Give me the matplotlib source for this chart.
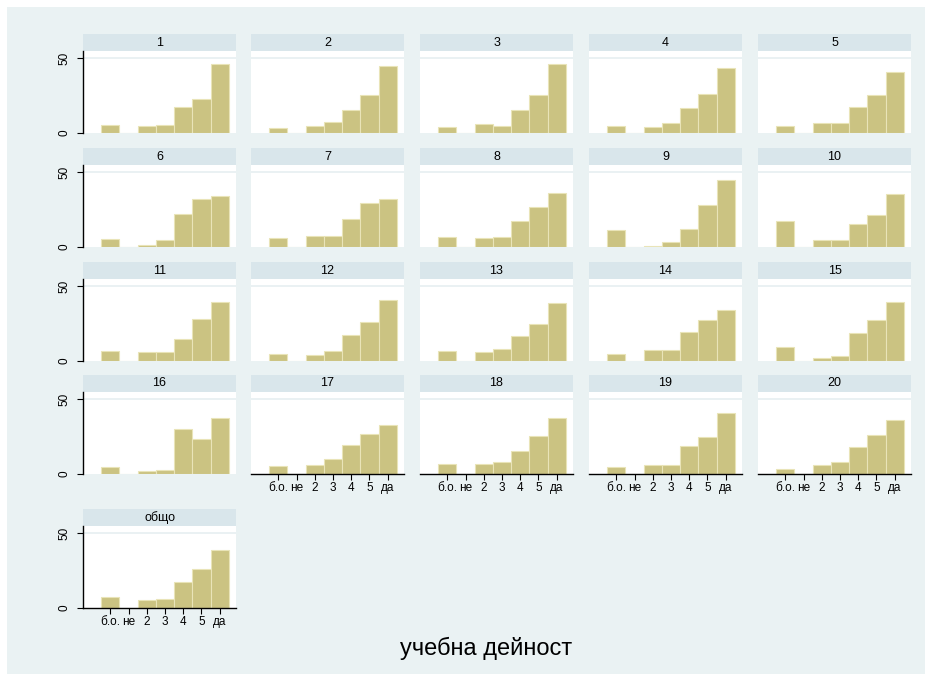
import numpy as np
import matplotlib
matplotlib.use("Agg")
import matplotlib.pyplot as plt
from matplotlib.patches import Rectangle

plt.rcParams["font.family"] = ["Liberation Sans", "DejaVu Sans"]

# категории по оста x
categories = ["б.о.", "не", "2", "3", "4", "5", "да"]
panel_titles = [str(i) for i in range(1, 21)] + ["общо"]
# стойности (проценти) за всеки панел, в реда на categories
values = [
    [5.5, 0, 4.6, 5.5, 17.1, 22.6, 45.9],
    [3.4, 0, 4.6, 7.5, 15.5, 25.3, 44.5],
    [4.1, 0, 5.9, 5.0, 15.1, 25.3, 45.9],
    [4.6, 0, 4.1, 6.6, 16.7, 26.3, 43.2],
    [4.8, 0, 6.8, 6.4, 17.1, 25.6, 41.1],
    [5.2, 0, 1.1, 5.0, 22.3, 32.3, 34.3],
    [5.7, 0, 7.3, 7.3, 18.9, 29.1, 32.3],
    [6.6, 0, 5.9, 6.6, 17.7, 27.0, 36.4],
    [11.4, 0, 0.9, 3.4, 12.0, 28.4, 44.5],
    [17.7, 0, 5.0, 5.0, 15.2, 21.6, 35.7],
    [6.8, 0, 5.9, 5.9, 14.8, 28.1, 39.3],
    [4.6, 0, 4.1, 6.8, 17.4, 26.3, 41.1],
    [6.8, 0, 5.9, 7.8, 16.7, 24.7, 39.0],
    [4.6, 0, 7.5, 7.1, 19.6, 27.6, 34.0],
    [9.6, 0, 2.1, 3.4, 18.5, 27.6, 39.3],
    [4.5, 0, 2.0, 2.5, 30.0, 23.4, 37.3],
    [5.2, 0, 5.9, 10.2, 19.5, 26.4, 32.7],
    [6.6, 0, 6.8, 8.0, 15.7, 25.7, 37.7],
    [4.8, 0, 5.7, 5.7, 18.9, 25.0, 40.5],
    [3.2, 0, 6.1, 7.7, 18.2, 25.9, 36.4],
    [7.2, 0, 5.6, 6.3, 17.6, 25.9, 39.0],
]

W, H = 930, 679
bg = "#EAF2F3"
strip_col = "#D9E6EB"
bar_col = "#CBC382"
edge_col = "#E9E4B8"

fig = plt.figure(figsize=(W / 100, H / 100), dpi=100, facecolor="white")
fig.patches.append(Rectangle((7 / W, 5 / H), (W - 12) / W, (H - 12) / H,
                             transform=fig.transFigure, facecolor=bg,
                             edgecolor="none", zorder=-10))

col_left = [83, 251, 420, 589, 758]
pw = 153
strip_top = [34, 148, 262, 375, 509]
sh = 17
ph = 82


def px(x, y, w, h):
    return [x / W, 1 - (y + h) / H, w / W, h / H]


x = np.arange(len(categories))
for i, (title, vals) in enumerate(zip(panel_titles, values)):
    r, c = divmod(i, 5)
    left = col_left[c]
    top = strip_top[r]
    # лента със заглавие
    sax = fig.add_axes(px(left, top, pw, sh))
    sax.set_facecolor(strip_col)
    sax.set_xticks([]); sax.set_yticks([])
    for s in sax.spines.values():
        s.set_visible(False)
    sax.text(0.5, 0.5, title, ha="center", va="center", fontsize=9,
             transform=sax.transAxes)

    ax = fig.add_axes(px(left, top + sh, pw, ph))
    ax.set_facecolor("white")
    ax.axhline(50, color="#E6EFF1", lw=1.2, zorder=0)
    ax.bar(x, vals, width=1.0, color=bar_col, edgecolor=edge_col, lw=0.8,
           zorder=2)
    ax.set_xlim(-1.5, 6.9)
    ax.set_ylim(0, 54.8)
    for s in ["top", "right"]:
        ax.spines[s].set_visible(False)

    bottom = i >= 16
    if c == 0:
        ax.spines["left"].set_color("black")
        ax.spines["left"].set_linewidth(1)
        ax.set_yticks([0, 50])
        ax.set_yticklabels(["0", "50"], rotation=90, va="center",
                           fontsize=8.5)
        ax.tick_params(axis="y", length=4, width=0.8, pad=5)
    else:
        ax.spines["left"].set_visible(False)
        ax.set_yticks([])
    if bottom:
        ax.spines["bottom"].set_color("black")
        ax.spines["bottom"].set_linewidth(1)
        ax.set_xticks(x)
        ax.set_xticklabels(categories, fontsize=8.5)
        ax.tick_params(axis="x", length=4, width=0.8, pad=2)
    else:
        ax.spines["bottom"].set_visible(False)
        ax.set_xticks([])

fig.text(486 / W, 1 - 648 / H, "учебна дейност", ha="center", va="center",
         fontsize=17)

fig.savefig("out.png", dpi=100, facecolor="white")
